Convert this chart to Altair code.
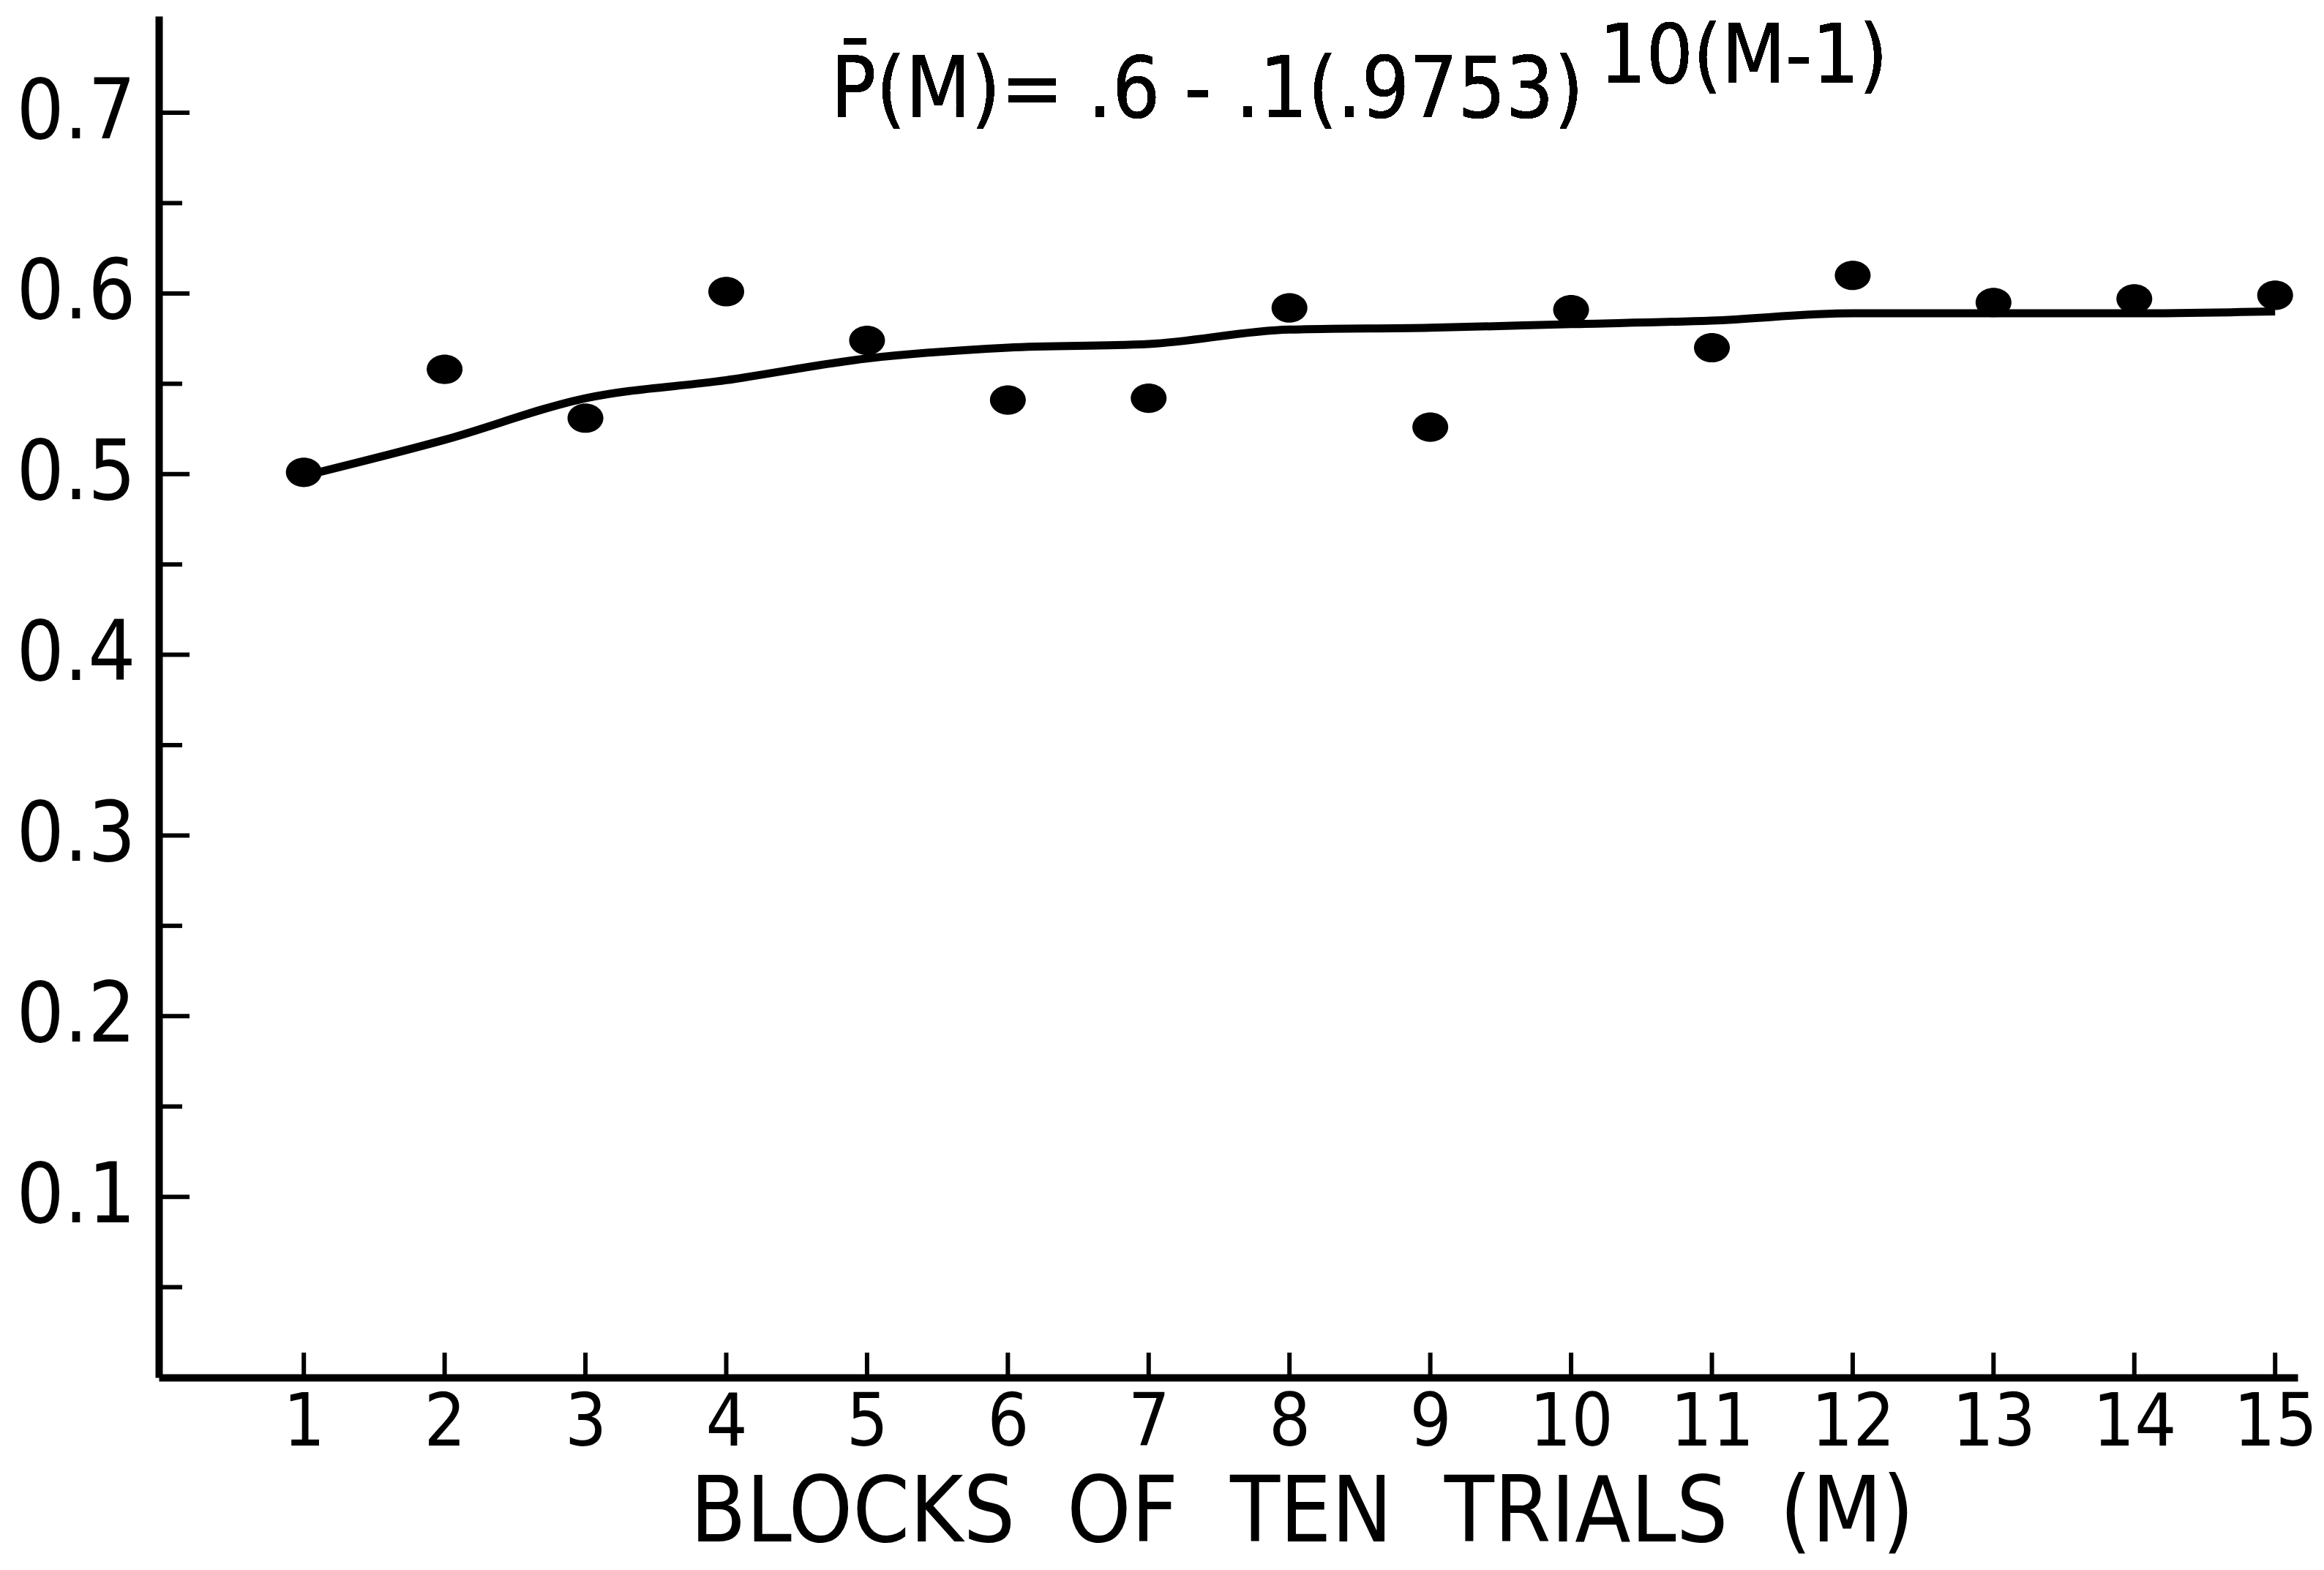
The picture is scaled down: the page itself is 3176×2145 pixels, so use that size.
import altair as alt
import pandas as pd

blocks = list(range(1, 16))
observed = [0.501, 0.558, 0.531, 0.601, 0.574, 0.541, 0.542, 0.592,
            0.526, 0.591, 0.570, 0.610, 0.595, 0.597, 0.599]
# Hand-drawn fitted curve
curve = [0.499, 0.519, 0.542, 0.552, 0.564, 0.570, 0.572, 0.580,
         0.581, 0.583, 0.585, 0.589, 0.589, 0.589, 0.590]

y_major = [0.1, 0.2, 0.3, 0.4, 0.5, 0.6, 0.7]
y_minor = [0.05, 0.15, 0.25, 0.35, 0.45, 0.55, 0.65]
x_ticks = blocks

FONT = "DejaVu Sans Condensed, DejaVu Sans"
ELLIPSE = "M-1,0 A1,0.82 0 1,0 1,0 A1,0.82 0 1,0 -1,0 Z"
NB = "\u00a0"

pts = pd.DataFrame({"M": blocks, "P": observed})
fit = pd.DataFrame({"M": blocks, "P": curve})
ymaj = pd.DataFrame({"v": y_major})
ymin = pd.DataFrame({"v": y_minor})
xt = pd.DataFrame({"M": x_ticks})

xs = alt.Scale(domain=[-0.03, 15.16], nice=False, zero=False)
ys = alt.Scale(domain=[0, 0.7535], nice=False, zero=False)

x_title = f"BLOCKS {NB}OF {NB}TEN {NB}TRIALS {NB}(M)"

x_axis = alt.Axis(values=x_ticks, format="d", ticks=False, tickSize=0, grid=False,
                  domainColor="black", domainWidth=10, labelFontSize=100,
                  labelFont=FONT, labelColor="black", labelPadding=13,
                  labelLimit=1000, labelOverlap=False, labelFlush=False,
                  title=x_title, titleFont=FONT,
                  titleFontSize=124, titleFontWeight="normal", titleColor="black",
                  titleX=1562, titleY=186, titleBaseline="middle", titleAnchor="start",
                  titleAlign="center", titleLimit=3000)
y_axis = alt.Axis(values=y_major, format=".1f", ticks=False, tickSize=0, grid=False,
                  domainColor="black", domainWidth=10, labelFontSize=114,
                  labelFont=FONT, labelColor="black", labelPadding=32,
                  labelLimit=1000, labelOverlap=False, title=None)

base_pts = alt.Chart(pts).mark_point(filled=True, color="black", size=2400, opacity=1,
                                     shape=ELLIPSE).encode(
    x=alt.X("M:Q", scale=xs, axis=x_axis),
    y=alt.Y("P:Q", scale=ys, axis=y_axis),
)

line = alt.Chart(fit).mark_line(color="black", strokeWidth=11, interpolate="monotone").encode(
    x=alt.X("M:Q", scale=xs),
    y=alt.Y("P:Q", scale=ys),
)

ymaj_ticks = alt.Chart(ymaj).mark_rule(color="black", strokeWidth=6).encode(
    y=alt.Y("v:Q", scale=ys), x=alt.value(0), x2=alt.value(42))
ymin_ticks = alt.Chart(ymin).mark_rule(color="black", strokeWidth=6).encode(
    y=alt.Y("v:Q", scale=ys), x=alt.value(0), x2=alt.value(32))
x_tick_marks = alt.Chart(xt).mark_rule(color="black", strokeWidth=6).encode(
    x=alt.X("M:Q", scale=xs), y=alt.value(1860), y2=alt.value(1826))

eq = alt.Chart(pts).mark_text(align="left", baseline="alphabetic", fontSize=115,
                              font=FONT, color="black").encode(
    x=alt.datum(4.74), y=alt.datum(0.6975), text=alt.value("P\u0304(M)= .6 - .1(.9753)"))
sup = alt.Chart(pts).mark_text(align="left", baseline="alphabetic", fontSize=112,
                               font=FONT, color="black").encode(
    x=alt.datum(10.2), y=alt.datum(0.7165), text=alt.value("10(M-1)"))

chart = alt.layer(ymaj_ticks, ymin_ticks, x_tick_marks, line, base_pts, eq, sup).properties(
    width=2923, height=1860,
    padding={"left": 209, "top": 14, "right": 28, "bottom": 255},
    autosize=alt.AutoSizeParams(type="none"),
    background="white",
).configure_view(stroke=None)

chart.save("out.html", embed_options={"renderer": "svg", "actions": False})
